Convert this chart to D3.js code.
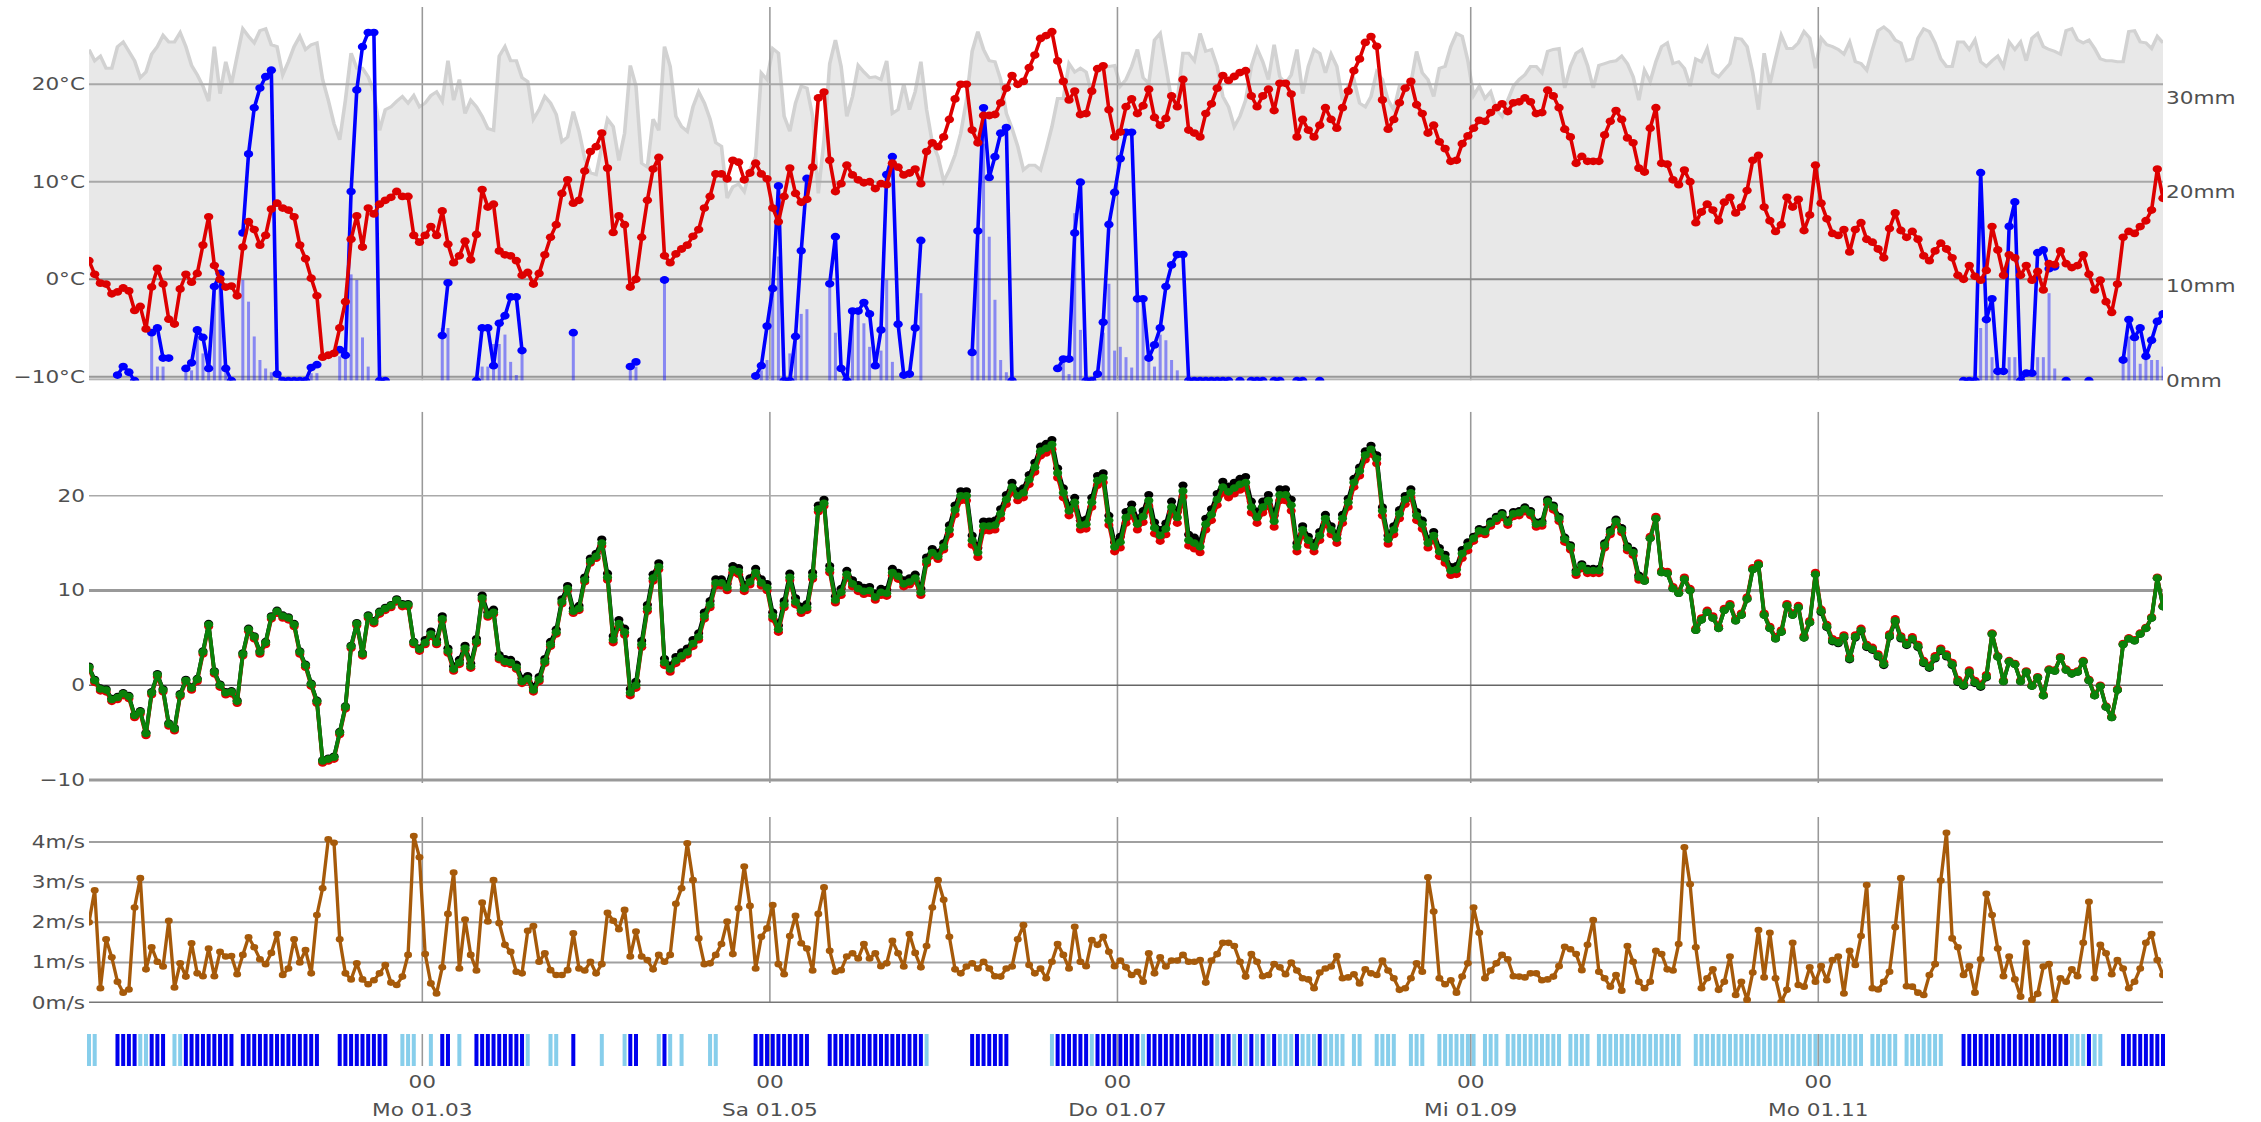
<!DOCTYPE html>
<html><head><meta charset="utf-8">
<script src="https://cdn.jsdelivr.net/npm/d3@7"></script>
<style>
body{margin:0;background:#fff}
svg{display:block}
text{font-family:"DejaVu Sans",Verdana,sans-serif;font-size:18px;fill:#505050}
</style>
</head><body>
<svg id="c" width="2261" height="1122"></svg>
<script>
// ---------------- DATA (daily, 2021-01-01 .. 2021-12-31) ----------------
const startDay = "2021-01-01";

// daily mean temperature, °C
const temperature = [
 1.9,0.5,-0.4,-0.5,-1.5,-1.3,-0.9,-1.2,-3.2,-2.8,
 -5.1,-0.8,1.1,-0.5,-4.1,-4.6,-1.0,0.5,-0.3,0.6,
 3.5,6.4,1.4,0.0,-0.8,-0.7,-1.7,3.3,5.9,5.1,
 3.5,4.5,7.2,7.8,7.3,7.1,6.4,3.5,2.1,0.1,
 -1.7,-8.0,-7.8,-7.6,-5.0,-2.3,4.1,6.5,3.3,7.3,
 6.7,7.7,8.1,8.4,9.0,8.5,8.5,4.5,3.8,4.5,
 5.4,4.5,7.0,3.6,1.7,2.4,3.9,2.0,4.6,9.2,
 7.4,7.7,2.9,2.5,2.4,1.9,0.4,0.7,-0.5,0.6,
 2.5,4.3,5.6,8.8,10.2,7.8,8.1,11.1,13.1,13.6,
 15.0,11.4,4.8,6.5,5.6,-0.8,0.0,4.3,8.1,11.3,
 12.5,2.4,1.7,2.6,3.1,3.5,4.4,5.1,7.3,8.5,
 10.8,10.8,10.3,12.2,12.0,10.2,10.9,11.9,10.8,10.3,
 7.3,5.9,8.5,11.4,8.8,7.9,8.2,11.5,18.6,19.2,
 12.2,9.0,9.8,11.7,10.7,10.2,9.9,10.0,9.3,9.8,
 9.7,11.9,11.5,10.7,10.9,11.3,9.8,13.1,14.0,13.6,
 14.6,16.4,18.5,20.0,20.0,15.3,14.0,16.8,16.8,16.9,
 18.1,19.6,20.9,20.0,20.3,21.7,23.0,24.7,25.0,25.4,
 22.4,20.3,18.4,19.3,16.9,17.0,19.3,21.6,21.9,17.4,
 14.6,15.1,17.7,18.5,17.0,17.8,19.5,16.6,15.8,16.5,
 18.8,17.7,20.5,15.3,15.0,14.6,17.0,18.0,19.6,20.9,
 20.4,20.8,21.2,21.4,18.8,17.7,18.8,19.5,17.3,20.1,
 20.1,19.0,14.6,16.4,15.3,14.6,15.8,17.6,16.4,15.5,
 17.6,19.3,21.4,22.6,24.3,24.9,23.9,18.4,15.4,16.4,
 18.1,19.6,20.3,17.9,17.0,15.0,15.8,14.1,13.4,12.1,
 12.2,13.9,14.7,15.5,16.3,16.2,17.1,17.6,18.0,17.2,
 18.1,18.2,18.6,18.2,17.0,17.1,19.4,18.8,17.6,15.4,
 14.6,11.9,12.6,12.1,12.1,12.1,14.8,16.2,17.3,16.4,
 14.5,14.0,11.4,11.0,15.5,17.6,11.9,11.8,10.2,9.7,
 11.2,10.0,5.8,6.9,7.7,7.1,6.0,7.9,8.4,6.8,
 7.4,9.1,12.2,12.7,7.4,6.0,4.9,5.6,8.4,7.4,
 8.2,5.0,6.6,11.7,7.8,6.2,4.7,4.5,5.1,2.8,
 5.1,5.8,4.1,3.8,3.1,2.2,5.2,6.8,5.0,4.3,
 4.9,4.1,2.4,1.9,2.9,3.7,3.1,2.2,0.4,0.0,
 1.4,0.3,-0.1,0.9,5.4,3.0,0.4,2.5,2.2,0.4,
 1.4,-0.1,0.8,-1.1,1.6,1.5,2.9,1.6,1.2,1.4,
 2.5,0.5,-1.1,-0.1,-2.3,-3.4,-0.5,4.3,4.9,4.7,
 5.4,6.0,7.1,11.3,8.3
];

// grey band series (right axis, mm scale)
const greyBand = [
 35.2,34.0,34.5,33.2,33.2,35.5,36.0,35.0,34.0,32.2,
 32.8,34.7,35.5,36.7,36.0,36.0,37.0,35.5,33.5,32.5,
 31.3,29.7,35.5,30.5,33.9,31.5,34.5,37.4,36.6,35.9,
 37.2,37.4,35.7,35.5,32.5,33.9,35.5,36.6,35.2,35.7,
 35.9,32.0,29.8,27.3,25.6,29.8,34.8,33.2,33.2,32.3,
 30.7,26.6,28.8,29.1,29.7,30.2,29.5,30.3,29.1,29.5,
 30.3,30.7,29.7,34.0,29.8,32.0,28.4,29.8,29.1,28.1,
 26.8,26.6,34.5,35.5,34.0,34.0,32.2,31.8,27.8,28.8,
 30.2,29.5,28.3,25.4,25.9,28.6,26.5,23.6,22.1,21.9,
 24.9,27.8,27.0,23.4,26.3,33.5,31.3,23.1,22.7,27.8,
 26.6,35.5,33.4,28.1,27.0,26.5,29.1,30.7,29.5,27.8,
 25.3,24.9,19.4,20.6,20.9,20.1,22.4,23.8,32.7,32.0,
 35.3,34.8,28.1,26.5,29.5,31.3,31.1,28.1,19.9,25.6,
 33.7,36.2,33.4,28.1,30.2,33.5,32.8,32.2,32.3,32.0,
 34.0,28.4,28.8,31.5,28.8,30.7,33.9,28.8,25.3,23.8,
 21.2,22.4,24.0,26.3,29.8,35.0,37.1,35.2,34.0,33.9,
 32.0,28.4,26.8,24.9,22.4,22.9,22.9,22.4,24.6,27.0,
 30.0,30.0,33.7,32.8,33.2,32.8,30.5,33.4,33.5,33.4,
 33.5,31.3,32.0,33.4,35.2,32.2,31.6,36.2,36.9,33.4,
 29.8,29.8,34.8,34.8,34.0,36.9,35.0,35.2,33.4,30.2,
 29.1,27.0,28.1,29.8,33.4,35.3,33.9,32.0,35.7,32.3,
 31.6,32.5,35.2,30.5,33.4,35.2,34.8,32.7,34.7,33.4,
 29.8,31.3,32.0,29.5,29.1,30.2,32.8,32.0,29.8,28.8,
 31.3,30.9,31.6,35.0,32.7,32.0,30.2,33.2,33.4,35.5,
 36.9,36.6,34.0,30.3,31.3,30.0,30.7,28.8,28.1,29.8,
 31.3,32.0,32.5,33.4,33.4,32.7,35.0,35.2,35.3,31.1,
 33.4,34.8,35.2,33.5,31.1,33.5,33.7,33.9,34.0,34.5,
 33.7,32.3,29.8,33.0,31.8,33.9,35.5,35.9,33.7,33.9,
 33.2,31.3,34.2,33.9,35.3,32.7,32.3,33.0,33.7,36.4,
 36.3,35.5,32.7,28.8,34.8,31.5,34.2,36.7,35.3,35.3,
 35.9,37.1,36.4,33.2,36.4,35.7,35.5,35.2,34.7,36.0,
 33.9,33.7,33.0,35.2,37.2,37.6,37.1,36.2,35.9,34.0,
 34.2,36.4,37.4,37.1,35.9,34.2,33.4,33.4,36.0,36.0,
 35.2,36.2,33.9,33.4,34.0,34.5,33.4,36.0,35.2,36.0,
 34.0,36.4,36.9,35.5,35.2,35.0,34.7,37.2,37.4,36.2,
 35.9,36.2,35.3,34.2,34.0,34.0,33.9,33.9,37.1,37.2,
 36.0,35.9,35.3,36.6,35.9
];

// blue line (mm), null = no value
const rainLine = [
 null,null,null,null,null,0.6,1.5,0.9,0,null,
 null,5.1,5.6,2.4,2.4,null,null,1.3,1.9,5.4,
 4.6,1.3,10.0,11.4,1.3,0,null,15.7,24.1,29.0,
 31.1,32.3,33.0,0.7,0,0,0,0,0,1.4,
 1.7,null,null,null,3.3,2.7,20.1,30.9,35.5,37.0,
 37.0,0,0,null,null,null,null,null,null,null,
 null,null,4.8,10.4,null,null,null,null,0,5.6,
 5.6,1.6,6.1,6.9,8.9,8.9,3.2,null,null,null,
 null,null,null,null,null,5.1,null,null,null,null,
 null,null,null,null,null,1.5,2.0,null,null,null,
 null,10.7,null,null,null,null,null,null,null,null,
 null,null,null,null,null,null,null,0.5,1.6,5.8,
 9.8,20.7,0,0,4.7,13.8,21.5,null,null,null,
 10.3,15.3,1.3,0,7.4,7.4,8.3,7.1,1.6,5.4,
 21.9,23.8,6.0,0.6,0.7,5.6,14.9,null,null,null,
 null,null,null,null,null,3.0,15.9,29.0,21.6,23.8,
 26.3,26.9,0,null,null,null,null,null,null,null,
 1.3,2.3,2.3,15.7,21.1,0,0,0.7,6.2,16.6,
 20.0,23.6,26.4,26.4,8.7,8.7,2.4,3.8,5.6,10.0,
 12.3,13.4,13.4,0,0,0,0,0,0,0,
 0,null,0,null,0,0,0,null,0,0,
 null,null,0,0,null,null,0,null,null,null,
 null,null,null,null,null,null,null,null,null,null,
 null,null,null,null,null,null,null,null,null,null,
 null,null,null,null,null,null,null,null,null,null,
 null,null,null,null,null,null,null,null,null,null,
 null,null,null,null,null,null,null,null,null,null,
 null,null,null,null,null,null,null,null,null,null,
 null,null,null,null,null,null,null,null,null,null,
 null,null,null,null,null,null,null,null,null,null,
 null,null,null,null,null,null,null,null,null,null,
 null,null,null,null,null,null,null,null,null,null,
 null,null,null,null,null,null,null,null,null,0,
 0,0,22.1,6.5,8.7,1.0,1.0,16.4,19.0,0,
 0.8,0.8,13.6,13.9,11.9,12.1,null,0,null,null,
 null,0,null,null,null,null,null,2.2,6.5,4.6,
 5.6,2.6,4.3,6.3,7.1
];

// daily precipitation bars (day index, mm)
const precipDays = [11,12,13,17,18,19,20,21,22,23,24,27,28,29,30,31,32,39,40,44,45,46,47,48,49,
 62,63,69,70,71,72,73,74,75,76,85,95,96,101,118,119,120,121,123,124,125,126,130,131,134,135,136,137,139,140,141,146,
 155,156,157,158,159,160,161,171,172,173,174,178,179,180,181,182,183,184,185,186,187,188,189,190,191,
 332,333,334,335,337,338,342,343,344,345,357,358,359,360,361,362,363,364];
const precipMm = [5.1,1.5,1.5,1.1,1.1,5.1,2.9,1.7,10.2,11.4,1.4,10.7,8.4,4.7,2.2,1.3,0.9,0.8,0.8,2.6,2.4,11.3,10.7,4.6,1.5,
 5.6,5.6,1.5,1.5,3.9,3.9,4.9,2.0,0.6,2.9,5.1,1.1,1.5,10.7,1.1,2.2,10.3,13.2,2.9,5.1,7.1,7.6,10.3,5.1,7.5,7.3,6.1,3.6,3.2,10.7,2.0,9.3,
 2.9,15.9,25.2,15.3,8.6,2.2,0.9,2.0,0.7,17.8,5.4,5.1,10.3,3.2,3.6,2.5,1.4,9.3,8.6,2.4,1.5,4.9,4.3,2.2,1.1,
 5.6,6.4,2.5,0.7,2.5,2.5,2.5,2.5,9.3,1.3,2.2,4.7,4.6,1.8,2.2,2.2,2.2,1.5];

// middle panel: monthly offsets of the black and red series from the green one (°C)
const blackOffset = [0.1,0.1,0.3,0.4,0.4,0.5,0.6,0.4,0.2,0.0,-0.1,0.0];
const redOffset   = [-0.2,-0.2,-0.2,-0.3,-0.3,-0.5,-0.6,-0.5,-0.3,0.2,0.2,0.1];

// wind speed, m/s
const wind = [
 2.0,2.8,0.36,1.58,1.13,0.52,0.25,0.33,2.37,3.1,
 0.83,1.38,1.02,0.9,2.04,0.38,0.98,0.65,1.48,0.73,
 0.66,1.35,0.66,1.27,1.15,1.16,0.71,1.19,1.63,1.38,
 1.08,0.96,1.24,1.71,0.69,0.85,1.58,1.0,1.31,0.73,
 2.18,2.85,4.07,3.98,1.58,0.73,0.58,0.98,0.58,0.46,
 0.56,0.73,0.94,0.5,0.44,0.65,1.19,4.15,3.62,1.21,
 0.48,0.23,0.88,2.21,3.24,0.85,2.07,1.19,0.8,2.49,
 2.02,3.05,1.98,1.44,1.27,0.77,0.73,1.79,1.91,1.02,
 1.23,0.81,0.69,0.69,0.81,1.73,0.85,0.8,1.02,0.73,
 0.96,2.24,2.04,1.83,2.31,1.15,1.77,1.15,1.06,0.83,
 1.19,1.02,1.19,2.46,2.85,3.97,3.05,1.6,0.96,0.98,
 1.19,1.46,2.02,1.21,2.35,3.39,2.41,0.85,1.64,1.85,
 2.43,0.96,0.71,1.66,2.16,1.48,1.35,0.8,2.21,2.87,
 1.29,0.77,0.81,1.15,1.23,1.1,1.46,1.1,1.23,0.91,
 0.98,1.54,1.23,0.9,1.71,1.24,0.88,1.41,2.37,3.05,
 2.56,1.64,0.83,0.73,0.9,0.98,0.85,1.02,0.85,0.66,
 0.65,0.85,0.9,1.58,1.93,0.94,0.73,0.85,0.61,1.02,
 1.46,1.19,0.85,1.89,1.02,0.91,1.56,1.44,1.64,1.27,
 0.91,1.05,0.88,0.69,0.77,0.52,1.23,0.73,1.13,0.9,
 1.05,1.05,1.19,1.02,1.02,1.06,0.5,1.05,1.21,1.49,
 1.49,1.41,1.02,0.65,1.21,1.02,0.66,0.69,0.96,0.88,
 0.71,1.0,0.8,0.61,0.58,0.36,0.75,0.85,0.9,1.16,
 0.61,0.63,0.71,0.48,0.83,0.73,0.69,1.05,0.8,0.61,
 0.32,0.36,0.61,0.98,0.77,3.12,2.27,0.61,0.46,0.56,
 0.25,0.65,0.98,2.37,1.74,0.61,0.8,0.98,1.19,1.08,
 0.66,0.65,0.63,0.73,0.73,0.56,0.58,0.65,0.91,1.39,
 1.33,1.21,0.81,1.44,2.06,0.77,0.61,0.4,0.69,0.3,
 1.41,1.02,0.52,0.36,0.52,1.29,1.21,0.83,0.8,1.46,
 3.87,2.95,1.38,0.36,0.61,0.83,0.32,0.52,1.15,0.19,
 0.52,0.07,0.75,1.81,0.63,1.74,0.61,0.02,0.32,1.49,
 0.44,0.4,0.88,0.52,0.91,0.56,1.06,1.15,0.23,1.29,
 0.94,1.66,2.93,0.36,0.33,0.52,0.77,1.88,3.1,0.41,
 0.4,0.25,0.19,0.69,0.96,3.04,4.23,1.6,1.38,0.69,
 0.91,0.25,1.08,2.71,2.18,1.35,0.66,1.15,0.58,0.15,
 1.49,0.07,0.22,0.9,0.96,0.02,0.61,0.52,0.83,0.66,
 1.49,2.51,0.61,1.44,1.23,0.71,1.06,0.85,0.36,0.52,
 0.85,1.49,1.71,1.06,0.69
];

// day strip: runs of [firstDay, lastDay, level]  (1 = light blue, 2 = dark blue)
const frostRuns = [
 [0,1,1],[5,8,2],[9,10,1],[11,13,2],[15,16,1],[17,25,2],[27,40,2],[44,52,2],[55,57,1],[60,60,1],
 [62,63,2],[65,65,1],[68,76,2],[77,77,1],[81,82,1],[85,85,2],[90,90,1],[94,94,1],[95,96,2],[100,100,1],
 [101,101,2],[102,102,1],[104,104,1],[109,110,1],[117,126,2],[130,146,2],[147,147,1],[155,161,2],[169,169,1],
 [170,175,2],[176,176,1],[177,184,2],[185,185,1],[186,197,2],[198,198,1],[199,200,2],[201,201,1],[202,202,2],
 [203,203,1],[204,204,2],[205,205,1],[206,206,2],[207,207,1],[208,208,2],[209,211,1],[212,212,2],[213,215,1],
 [216,216,2],[217,220,1],[222,223,1],[226,229,1],[232,234,1],[237,243,1],[245,247,1],[249,258,1],[260,263,1],
 [265,279,1],[282,311,1],[313,317,1],[319,325,1],[329,347,2],[348,350,1],[351,351,2],[352,353,1],[357,364,2]
];

const tickDates  = ["2021-03-01","2021-05-01","2021-07-01","2021-09-01","2021-11-01"];
const tickLabels = ["Mo 01.03","Sa 01.05","Do 01.07","Mi 01.09","Mo 01.11"];
const tempTicks = [20,10,0,-10];
const mmTicks = [30,20,10,0];
const midTicks = [20,10,0,-10];
const windTicks = [4,3,2,1,0];

// ---------------- DRAWING ----------------
const K = 1.2;               // horizontal stretch of the original rendering
const W = 2261, H = 1122;
const svg = d3.select("#c").attr("viewBox", `0 0 ${W/K} ${H}`).attr("preserveAspectRatio","none");
const parse = d3.utcParse("%Y-%m-%d");
const start = parse(startDay);
const days = temperature.map((_, i) => d3.utcHour.offset(d3.utcDay.offset(start, i), 12));
const X0 = 89/K, X1 = 2163/K;
const x = d3.scaleUtc().domain([days[0], days[days.length-1]]).range([X0, X1]);

const fmtNeg = v => (v < 0 ? "\u2212" + Math.abs(v) : "" + v);

const P = {
  top:  {y0: 7, y1: 380.5},
  mid:  {y0: 411.7, y1: 783},
  wind: {y0: 817, y1: 1003},
  strip:{y0: 1034, y1: 1066}
};
const yT  = d3.scaleLinear().domain([-10, 20]).range([376.7, 84.3]);
const yMm = d3.scaleLinear().domain([0, 30]).range([380.7, 98.4]);
const yM  = d3.scaleLinear().domain([-10, 20]).range([780, 495.7]);
const yW  = d3.scaleLinear().domain([0, 4]).range([1002.7, 842]);

const defs = svg.append("defs");
function clip(id, p){
  defs.append("clipPath").attr("id", id).append("rect")
    .attr("x", X0).attr("y", p.y0).attr("width", X1 - X0).attr("height", p.y1 - p.y0);
  return `url(#${id})`;
}
const vTicks = tickDates.map(parse);

function vGrid(g, p){
  g.selectAll(null).data(vTicks).join("line")
    .attr("x1", d => x(d)).attr("x2", d => x(d))
    .attr("y1", p.y0).attr("y2", p.y1)
    .attr("stroke", "#999").attr("stroke-width", 1.3);
}
function hLine(g, y, color, w){
  g.append("line").attr("x1", X0).attr("x2", X1).attr("y1", y).attr("y2", y)
    .attr("stroke", color).attr("stroke-width", w);
}
function series(g, data, yScale, color, lw, r){
  const line = d3.line().defined(v => v != null).x((v,i) => x(days[i])).y(v => yScale(v));
  g.append("path").attr("d", line(data)).attr("fill", "none")
    .attr("stroke", color).attr("stroke-width", lw).attr("stroke-linejoin", "round");
  g.selectAll(null).data(data.map((v,i) => ({v, i})).filter(d => d.v != null)).join("circle")
    .attr("cx", d => x(days[d.i])).attr("cy", d => yScale(d.v)).attr("r", r).attr("fill", color);
}

// ---- top panel ----
const gTop = svg.append("g").attr("clip-path", clip("cTop", P.top));
gTop.append("path")
  .attr("d", d3.area().x((v,i) => x(days[i])).y0(P.top.y1).y1(v => yMm(v))(greyBand))
  .attr("fill", "#e8e8e8");
gTop.append("path")
  .attr("d", d3.line().x((v,i) => x(days[i])).y(v => yMm(v))(greyBand))
  .attr("fill", "none").attr("stroke", "#d2d2d2").attr("stroke-width", 3);
vGrid(gTop, P.top);
hLine(gTop, yT(20), "#a8a8a8", 2);
hLine(gTop, yT(10), "#a8a8a8", 2);
hLine(gTop, yT(0), "#8c8c8c", 2);
hLine(gTop, yT(-10), "#999", 2);
hLine(gTop, 379.5, "#b4b4b4", 2);
gTop.selectAll(null).data(precipDays).join("rect")
  .attr("x", d => x(days[d]) - 1.25).attr("width", 2.5)
  .attr("y", (d,i) => yMm(precipMm[i])).attr("height", (d,i) => yMm(0) - yMm(precipMm[i]))
  .attr("fill", "rgba(20,20,255,0.45)");
series(gTop, rainLine, yMm, "#0000ff", 3, 3.9);
series(gTop, temperature, yT, "#dd0000", 3, 3.9);

svg.append("g").selectAll("text").data(tempTicks).join("text")
  .attr("x", 85/K).attr("y", d => yT(d)).attr("text-anchor", "end").attr("dominant-baseline", "central")
  .text(d => fmtNeg(d) + "°C");
svg.append("g").selectAll("text").data(mmTicks).join("text")
  .attr("x", 2166/K).attr("y", d => yMm(d)).attr("text-anchor", "start").attr("dominant-baseline", "central")
  .text(d => d + "mm");

// ---- middle panel ----
const gMid = svg.append("g").attr("clip-path", clip("cMid", P.mid));
vGrid(gMid, P.mid);
hLine(gMid, yM(20), "#aaa", 1.6);
hLine(gMid, yM(10), "#999", 3);
hLine(gMid, yM(0), "#666", 1.6);
hLine(gMid, yM(-10), "#999", 3);
const month = i => days[i].getUTCMonth();
const blackSeries = temperature.map((v,i) => +(v + blackOffset[month(i)]).toFixed(1));
const redSeries = temperature.map((v,i) => +(v + redOffset[month(i)]).toFixed(1));
series(gMid, blackSeries, yM, "#000", 3, 3.8);
series(gMid, redSeries, yM, "#e00000", 3, 3.8);
series(gMid, temperature, yM, "#0a820a", 3.2, 3.8);
svg.append("g").selectAll("text").data(midTicks).join("text")
  .attr("x", 85/K).attr("y", d => yM(d)).attr("text-anchor", "end").attr("dominant-baseline", "central")
  .text(d => fmtNeg(d));

// ---- wind panel ----
const gWind = svg.append("g").attr("clip-path", clip("cWind", P.wind));
vGrid(gWind, P.wind);
windTicks.forEach(t => hLine(gWind, yW(t), t === 0 ? "#777" : "#a0a0a0", t === 0 ? 2.6 : 2));
series(gWind, wind, yW, "#a65a0a", 2.8, 3.3);
svg.append("g").selectAll("text").data(windTicks).join("text")
  .attr("x", 85/K).attr("y", d => yW(d)).attr("text-anchor", "end").attr("dominant-baseline", "central")
  .text(d => d + "m/s");

// ---- day strip ----
const stripDays = [];
frostRuns.forEach(([a, b, lvl]) => { for (let d = a; d <= b; d++) stripDays.push({d, lvl}); });
const gStrip = svg.append("g");
gStrip.selectAll("rect").data(stripDays).join("rect")
  .attr("x", s => x(days[s.d]) - 2/K).attr("width", 4/K)
  .attr("y", P.strip.y0).attr("height", P.strip.y1 - P.strip.y0)
  .attr("fill", s => s.lvl === 2 ? "#0000ee" : "#87ceeb");
vGrid(gStrip, P.strip);

// ---- x tick labels ----
const gX = svg.append("g");
gX.selectAll(null).data(vTicks).join("text")
  .attr("x", d => x(d)).attr("y", 1082).attr("text-anchor", "middle").attr("dominant-baseline", "central")
  .text("00");
gX.selectAll(null).data(vTicks).join("text")
  .attr("x", d => x(d)).attr("y", 1110).attr("text-anchor", "middle").attr("dominant-baseline", "central")
  .text((d,i) => tickLabels[i]);
</script>
</body></html>
